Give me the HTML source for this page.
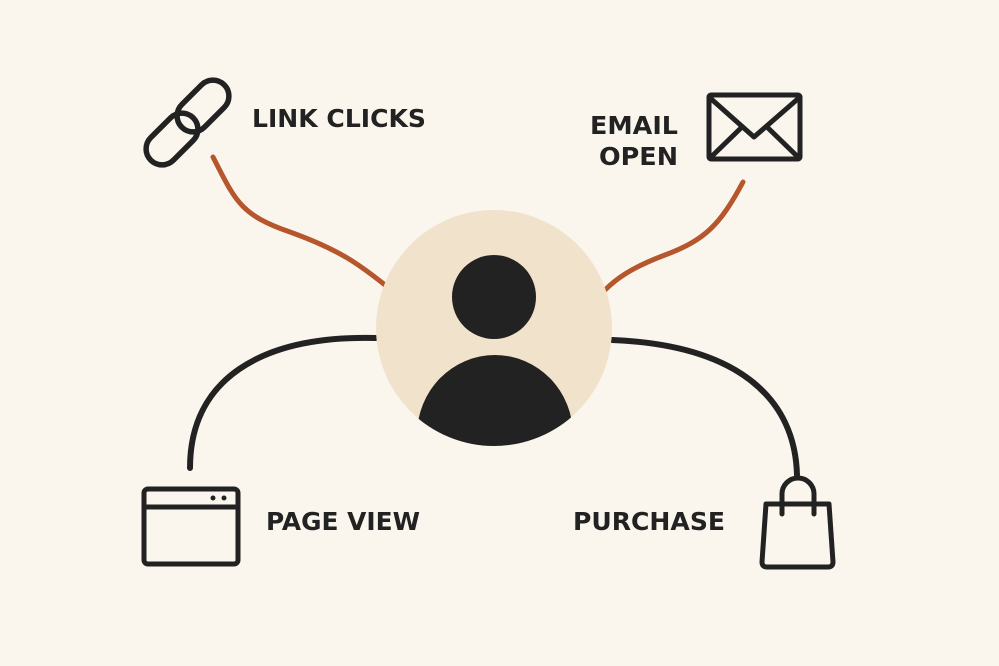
<!DOCTYPE html>
<html><head><style>
html,body{margin:0;padding:0;background:#faf6ee;}
svg{display:block}
text{font-family:"DejaVu Sans","Liberation Sans",sans-serif;font-weight:bold;fill:#222}
</style></head><body>
<svg width="999" height="666" viewBox="0 0 999 666">
<rect width="999" height="666" fill="#faf6ee"/>
<path d="M213 157 C235 200,240 215,290 232 C340 250,360 265,385 285" fill="none" stroke="#b5562c" stroke-width="5" stroke-linecap="round"/>
<path d="M743 182 C720 225,705 240,665 255 C630 268,615 280,605 290" fill="none" stroke="#b5562c" stroke-width="5" stroke-linecap="round"/>
<path d="M376 338 C260 335,190 380,190 468" fill="none" stroke="#222" stroke-width="6" stroke-linecap="round"/>
<path d="M612 340 C740 345,795 400,797 475" fill="none" stroke="#222" stroke-width="6" stroke-linecap="round"/>
<defs><clipPath id="c"><circle cx="494" cy="328" r="118"/></clipPath></defs>
<circle cx="494" cy="328" r="118" fill="#f1e2cc"/>
<circle cx="494" cy="297" r="42" fill="#222"/>
<g clip-path="url(#c)"><ellipse cx="495" cy="435" rx="78" ry="80" fill="#222"/></g>
<g fill="none" stroke="#222" stroke-width="5.5" stroke-linecap="round">
<rect x="173" y="90" width="60" height="32" rx="16" transform="rotate(-45 203 106)"/>
<rect x="142" y="123" width="60" height="32" rx="16" transform="rotate(-45 172 139)"/>
</g>
<text x="252" y="127" font-size="25" textLength="174" lengthAdjust="spacingAndGlyphs">LINK CLICKS</text>
<text x="590" y="134" font-size="25" textLength="88" lengthAdjust="spacingAndGlyphs">EMAIL</text>
<text x="599" y="165" font-size="25" textLength="79" lengthAdjust="spacingAndGlyphs">OPEN</text>
<g fill="none" stroke="#222" stroke-width="5" stroke-linejoin="round">
<rect x="709" y="95" width="91" height="64" rx="2"/>
<path d="M709 97 L754 137 L800 97"/>
<path d="M709 159 L742 127 M800 159 L767 127"/>
</g>
<g fill="none" stroke="#222" stroke-width="5">
<rect x="144" y="489" width="94" height="75" rx="4"/>
<line x1="144" y1="507" x2="238" y2="507"/>
</g>
<circle cx="213" cy="498" r="2.5" fill="#222"/><circle cx="224" cy="498" r="2.5" fill="#222"/>
<text x="266" y="530" font-size="25" textLength="154" lengthAdjust="spacingAndGlyphs">PAGE VIEW</text>
<text x="573" y="530" font-size="25" textLength="152" lengthAdjust="spacingAndGlyphs">PURCHASE</text>
<g fill="none" stroke="#222" stroke-width="5" stroke-linejoin="round" stroke-linecap="round">
<path d="M766 504 L829 504 L833 562 Q833 567 828 567 L767 567 Q762 567 762 562 Z"/>
<path d="M782 514 L782 494 A16 16 0 0 1 814 494 L814 514"/>
</g>
</svg>
</body></html>
